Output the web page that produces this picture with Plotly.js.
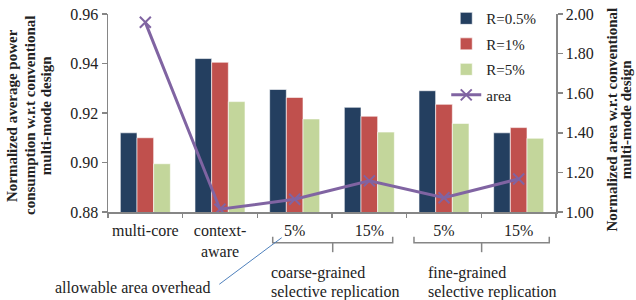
<!DOCTYPE html>
<html>
<head>
<meta charset="utf-8">
<script src="https://cdn.plot.ly/plotly-3.0.1.min.js"></script>
<style>html,body{margin:0;padding:0;background:#fff;}#chart{width:636px;height:300px;}</style>
</head>
<body>
<div id="chart"></div>
<script>
// ---- data ----
var categories = ["multi-core", "context-<br>aware", "5%", "15%", "5%", "15%"];
var seriesNames = ["R=0.5%", "R=1%", "R=5%"];
var powerR05 = [0.912, 0.942, 0.9295, 0.9223, 0.929, 0.912];
var powerR1  = [0.910, 0.9405, 0.9263, 0.9187, 0.9235, 0.9141];
var powerR5  = [0.8995, 0.9246, 0.9176, 0.9123, 0.9158, 0.9098];
var areaName = "area";
var areaValues = [1.958, 1.014, 1.064, 1.157, 1.072, 1.167];
var groupLabels = ["coarse-grained", "selective replication", "fine-grained", "selective replication"];
var noteText = "allowable area overhead";
var leftTitle = ["Normalized average power", "consumption w.r.t conventional", "multi-mode design"];
var rightTitle = ["Normalized area w.r.t conventional", "multi-mode design"];

var idx = categories.map(function(_, i){ return i; });
var colors = ["#243F60", "#C0504D", "#C3D69B"];
var serif = "Liberation Serif, Times New Roman, serif";

var traces = [powerR05, powerR1, powerR5].map(function(v, k){
  return {
    type: "bar", x: idx, y: v, name: seriesNames[k], legendgroup: "g" + k,
    marker: {color: colors[k], line: {color: "rgba(255,255,255,0.6)", width: 1}},
    hoverinfo: "skip"
  };
});
traces.push({
  type: "scatter", mode: "lines+markers", x: idx, y: areaValues, name: areaName,
  yaxis: "y2", legendgroup: "g3",
  line: {color: "#8064A2", width: 3},
  marker: {symbol: "x-thin", size: 11, line: {color: "#8064A2", width: 2}, color: "#8064A2"}
});
// boundary ticks
traces.push({type: "scatter", x: [-0.5, 5.5], y: [0.88, 0.88], xaxis: "x2", mode: "none", legendgroup: "g3", showlegend: false, hoverinfo: "skip"});

var gray = "#868686";
var shapes = [];
function bracket(x0, x1){
  var xc = (x0 + x1) / 2;
  shapes.push({type: "path", xref: "x", yref: "paper",
    path: "M" + x0 + "," + (-0.125) + " L" + x0 + "," + (-0.155) + " L" + x1 + "," + (-0.155) + " L" + x1 + "," + (-0.125),
    line: {color: gray, width: 1.5}});
  shapes.push({type: "line", xref: "x", yref: "paper", x0: xc, x1: xc, y0: -0.155, y1: -0.203, line: {color: gray, width: 1.5}});
}
bracket(1.706, 3.313);
bracket(3.598, 5.41);
shapes.push({type: "line", xref: "paper", yref: "paper", x0: 0.2484, y0: -0.365, x1: 0.3877, y1: -0.1298, line: {color: "#4F81BD", width: 1}});

var annotations = [];
function txt(t, x, y, opts){
  var a = {text: t, x: x, y: y, xref: "paper", yref: "paper", showarrow: false,
    font: {family: serif, size: 16, color: "#222"}, xanchor: "center", yanchor: "middle"};
  for (var k in opts) a[k] = opts[k];
  annotations.push(a);
}
txt(groupLabels[0], 0.360, -0.308, {xanchor: "left"});
txt(groupLabels[1], 0.360, -0.402, {xanchor: "left"});
txt(groupLabels[2], 0.709, -0.308, {xanchor: "left"});
txt(groupLabels[3], 0.709, -0.402, {xanchor: "left"});
txt(noteText, 0.0551, -0.379, {});
var lx = [-0.214, -0.174, -0.138];
leftTitle.forEach(function(t, i){
  txt("<b>" + t + "</b>", lx[i], 0.485, {textangle: -90, font: {family: serif, size: 15, color: "#222"}});
});
var rx = [1.124, 1.157];
rightTitle.forEach(function(t, i){
  txt("<b>" + t + "</b>", rx[i], 0.465, {textangle: -90, font: {family: serif, size: 15, color: "#222"}});
});

var layout = {
  width: 636, height: 300,
  margin: {l: 108, r: 80, t: 14, b: 88, autoexpand: false},
  paper_bgcolor: "#fff", plot_bgcolor: "#fff",
  barmode: "group", bargap: 0.33, bargroupgap: 0,
  font: {family: serif, size: 16, color: "#222"},
  showlegend: true,
  legend: {x: 0.755, y: 1.06, xanchor: "left", yanchor: "top", bgcolor: "rgba(0,0,0,0)",
    font: {family: serif, size: 15, color: "#222"}, traceorder: "grouped", tracegroupgap: 3, itemwidth: 30},
  xaxis: {range: [-0.5, 5.5], tickvals: idx, ticktext: categories, ticks: "outside", ticklen: 3,
    tickcolor: "rgba(0,0,0,0)", showgrid: false, zeroline: false, showline: true, linecolor: gray, linewidth: 1.5,
    tickfont: {family: serif, size: 16, color: "#222"}, fixedrange: true, automargin: false},
  xaxis2: {overlaying: "x", range: [-0.5, 5.5], tickvals: [-0.5, 0.5, 1.5, 2.5, 3.5, 4.5, 5.5], showticklabels: false,
    ticks: "outside", ticklen: 5, tickcolor: gray, tickwidth: 1.5, showgrid: false, zeroline: false, showline: false, anchor: "y"},
  yaxis: {range: [0.88, 0.96], dtick: 0.02, tickformat: ".2f", ticks: "outside", ticklen: 5, tickcolor: gray, tickwidth: 1.5,
    showline: true, linecolor: gray, linewidth: 1.5, showgrid: false, zeroline: false, automargin: false,
    tickfont: {family: serif, size: 16, color: "#222"}},
  yaxis2: {overlaying: "y", side: "right", range: [1.0, 2.0], dtick: 0.2, tickformat: ".2f", ticks: "outside", ticklen: 5,
    tickcolor: gray, tickwidth: 1.5, showline: true, linecolor: gray, linewidth: 1.5, showgrid: false, zeroline: false, automargin: false,
    tickfont: {family: serif, size: 16, color: "#222"}},
  shapes: shapes,
  annotations: annotations
};

Plotly.newPlot("chart", traces, layout, {staticPlot: true, displayModeBar: false});
</script>
</body>
</html>
